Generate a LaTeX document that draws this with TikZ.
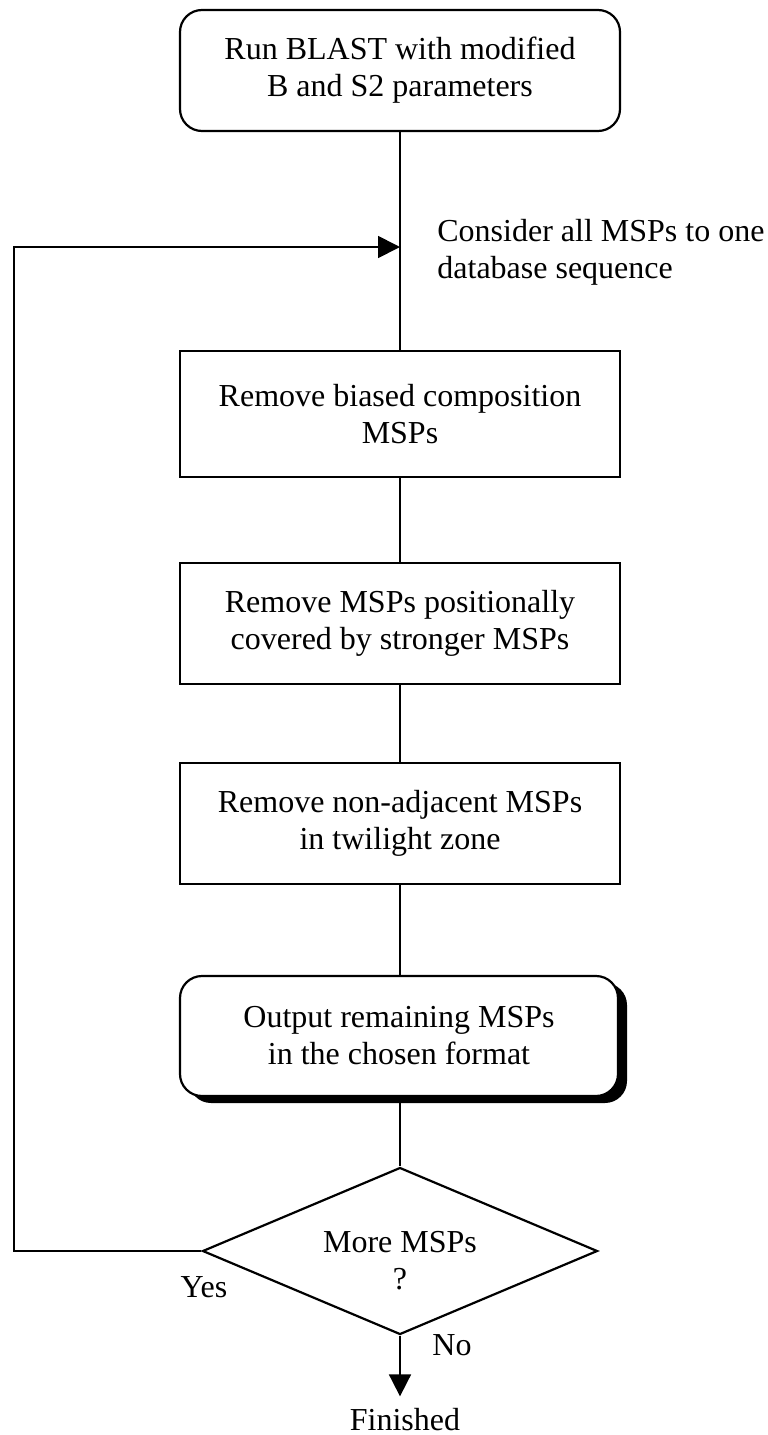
\documentclass[tikz,border=0pt]{standalone}
\usepackage{fontspec}
\setmainfont{Liberation Serif}
\usetikzlibrary{shapes.geometric,arrows.meta,shadows}
\begin{document}
\begin{tikzpicture}[x=0.5pt,y=-0.5pt,
  every node/.style={font=\fontsize{16}{18.5}\selectfont},
  box/.style={draw,line width=1.1pt,minimum width=220pt,minimum height=60.5pt,align=center,inner sep=0pt},
  rbox/.style={box,rounded corners=11pt},
  conn/.style={line width=0.9pt},
  tip/.style={-{Triangle[length=11pt,width=11pt]}},
  lbl/.style={inner sep=0pt}]
\useasboundingbox (0,0) rectangle (767,1435);
\node[rbox] (run) at (400,70.5) {Run BLAST with modified\\B and S2 parameters};
\node[box,minimum height=63pt] (bias) at (400,414) {Remove biased composition\\MSPs};
\node[box] (cover) at (400,623.5) {Remove MSPs positionally\\covered by stronger MSPs};
\node[box] (twi) at (400,823.5) {Remove non-adjacent MSPs\\in twilight zone};
\node[rbox,fill=white,minimum width=219pt,minimum height=60pt,
  drop shadow={shadow xshift=4.5pt,shadow yshift=-3.5pt,fill=black,opacity=1}] (out) at (399,1036) {Output remaining MSPs\\in the chosen format};
\node[diamond,draw,line width=1.1pt,aspect=2.36,inner sep=0pt,minimum width=197.5pt,minimum height=83.5pt] (more) at (400,1251) {};
\node[lbl,align=center] (moretxt) at (400,1261) {More MSPs\\?};
\node[lbl,align=left,anchor=west] (consider) at (437,252) {Consider all MSPs to one\\database sequence};
\node[lbl] (yes) at (204,1287) {Yes};
\node[lbl] (no) at (452,1345) {No};
\node[lbl,inner sep=6pt] (fin) at (405,1420) {Finished};
\coordinate (join) at (400,247);
\coordinate (loop) at (14,247);
\draw[conn] (run.south) -- (bias.north);
\draw[conn] (bias.south) -- (cover.north);
\draw[conn] (cover.south) -- (twi.north);
\draw[conn] (twi.south) -- (out.north -| twi.south);
\draw[conn] (out.south -| more.north) -- (more.north);
\draw[conn,tip] (more.west) -| (loop) -- (join);
\draw[conn,tip] (more.south) -- (more.south |- fin.north);
\end{tikzpicture}
\end{document}
